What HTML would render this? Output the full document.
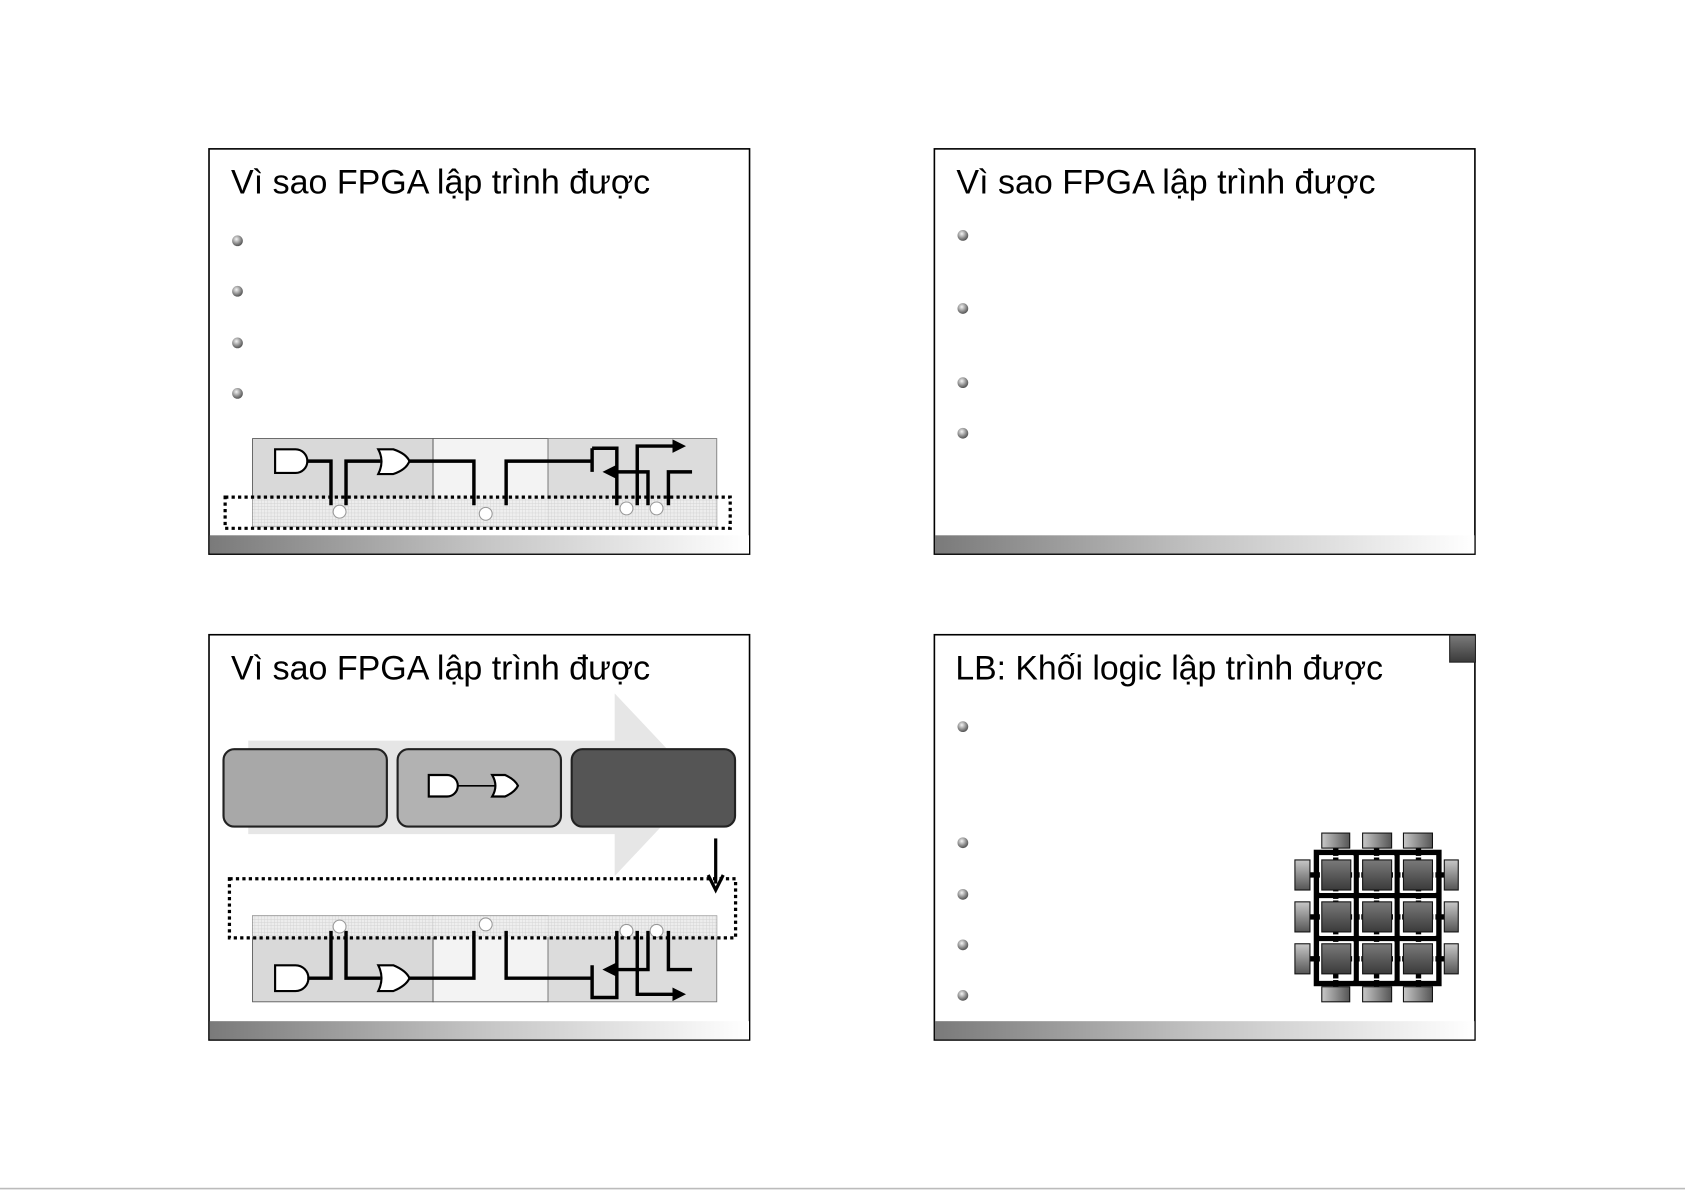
<!DOCTYPE html>
<html><head><meta charset="utf-8"><style>
html,body{margin:0;padding:0;background:#fff;}
svg{display:block;}
text{font-family:"Liberation Sans",Arial,sans-serif;}
</style></head><body>
<svg width="1685" height="1191" viewBox="0 0 1568 1108" preserveAspectRatio="none" xmlns="http://www.w3.org/2000/svg">
<defs>
<linearGradient id="bar" x1="0" x2="1" y1="0" y2="0"><stop offset="0" stop-color="#7a7a7a"/><stop offset="0.5" stop-color="#c4c4c4"/><stop offset="1" stop-color="#ffffff"/></linearGradient>
<radialGradient id="ball" cx="0.4" cy="0.35" r="0.7"><stop offset="0" stop-color="#f4f4f4"/><stop offset="0.6" stop-color="#8a8a8a"/><stop offset="1" stop-color="#4a4a4a"/></radialGradient>
<linearGradient id="sq" x1="0" x2="0" y1="0" y2="1"><stop offset="0" stop-color="#7a7a7a"/><stop offset="1" stop-color="#3a3a3a"/></linearGradient>
<linearGradient id="padh" x1="0" x2="1" y1="0" y2="0"><stop offset="0" stop-color="#c8c8c8"/><stop offset="1" stop-color="#555"/></linearGradient>
<linearGradient id="padv" x1="0" x2="0" y1="0" y2="1"><stop offset="0" stop-color="#c8c8c8"/><stop offset="1" stop-color="#555"/></linearGradient>
<pattern id="grid" width="3" height="3" patternUnits="userSpaceOnUse"><rect width="3" height="3" fill="#efefef"/><path d="M0 0H3M0 0V3" stroke="#d0d0d0" stroke-width="0.8"/></pattern>
<marker id="ah" markerWidth="4" markerHeight="4" refX="2" refY="2" orient="auto" markerUnits="strokeWidth"><path d="M0,0 L4,2 L0,4 z" fill="#000"/></marker>
<g id="ballg"><circle r="5" fill="url(#ball)"/></g>
</defs>

<!-- Slide 1 -->
<rect x="194.5" y="138.5" width="503" height="377" fill="#fff" stroke="#000" stroke-width="1.5"/>
<rect x="195" y="498" width="502" height="17" fill="url(#bar)"/>
<text x="215" y="180" font-size="32" fill="#000" textLength="390" lengthAdjust="spacingAndGlyphs">Vì sao FPGA lập trình được</text>
<use href="#ballg" x="221" y="224"/><use href="#ballg" x="221" y="271"/><use href="#ballg" x="221" y="319"/><use href="#ballg" x="221" y="366"/>
<g>
<rect x="235" y="408" width="168" height="82" fill="#d9d9d9" stroke="#555" stroke-width="0.8"/>
<rect x="403" y="408" width="107" height="82" fill="#f3f3f3" stroke="#555" stroke-width="0.8"/>
<rect x="510" y="408" width="157" height="82" fill="#dcdcdc" stroke="#777" stroke-width="0.8"/>
<rect x="235" y="463" width="432" height="27" fill="url(#grid)" opacity="0.9"/>
<path d="M256 418 H275 A11 11 0 0 1 275 440 H256 Z" fill="#fff" stroke="#000" stroke-width="2"/>
<path d="M352 418 H366 Q378 422 381 429 Q378 437 366 441 H352 Q358 429 352 418 Z" fill="#fff" stroke="#000" stroke-width="2"/>
<g fill="none" stroke="#000" stroke-width="3.2">
<path d="M286 429 H308 V470"/><path d="M322 470 V429 H354"/>
<path d="M381 429 H441 V470"/><path d="M471 470 V429 H551"/>
<path d="M551 417 H574 V470"/><path d="M551 417 V439"/>
<path d="M593 470 V415 H632" marker-end="url(#ah)"/>
<path d="M603 470 V439 H567" marker-end="url(#ah)"/>
<path d="M622 470 V439 H644"/>
</g>
<g fill="#fff" stroke="#999" stroke-width="1"><circle cx="316" cy="476" r="6"/><circle cx="452" cy="478" r="6"/><circle cx="583" cy="473" r="6"/><circle cx="611" cy="473" r="6"/></g>
<rect x="209.5" y="462.5" width="470" height="29" fill="none" stroke="#000" stroke-width="3" stroke-dasharray="3 3"/>
</g>

<!-- Slide 2 -->
<rect x="869.5" y="138.5" width="503" height="377" fill="#fff" stroke="#000" stroke-width="1.5"/>
<rect x="870" y="498" width="502" height="17" fill="url(#bar)"/>
<text x="890" y="180" font-size="32" fill="#000" textLength="390" lengthAdjust="spacingAndGlyphs">Vì sao FPGA lập trình được</text>
<use href="#ballg" x="896" y="219"/><use href="#ballg" x="896" y="287"/><use href="#ballg" x="896" y="356"/><use href="#ballg" x="896" y="403"/>

<!-- Slide 3 -->
<rect x="194.5" y="590.5" width="503" height="377" fill="#fff" stroke="#000" stroke-width="1.5"/>
<rect x="195" y="950" width="502" height="17" fill="url(#bar)"/>
<text x="215" y="632" font-size="32" fill="#000" textLength="390" lengthAdjust="spacingAndGlyphs">Vì sao FPGA lập trình được</text>
<path d="M231 689 H572 V645 L652 730 L572 815 V776 H231 Z" fill="#e6e6e6"/>
<rect x="208" y="697" width="152" height="72" rx="10" fill="#a8a8a8" stroke="#222" stroke-width="2"/>
<rect x="370" y="697" width="152" height="72" rx="10" fill="#b2b2b2" stroke="#222" stroke-width="2"/>
<rect x="532" y="697" width="152" height="72" rx="10" fill="#555" stroke="#222" stroke-width="2"/>
<path d="M399 721 H416 A10 10 0 0 1 416 741 H399 Z" fill="#fff" stroke="#000" stroke-width="2"/>
<path d="M426 731 H462" stroke="#000" stroke-width="1.5"/>
<path d="M458 721 H470 Q479 725 482 731 Q479 737 470 741 H458 Q464 731 458 721 Z" fill="#fff" stroke="#000" stroke-width="2"/>
<path d="M666 780 V822" stroke="#000" stroke-width="3"/><path d="M659 814 L666 828 L673 814" fill="none" stroke="#000" stroke-width="3"/>
<rect x="235" y="852" width="168" height="80" fill="#d9d9d9" stroke="#555" stroke-width="0.8"/>
<rect x="403" y="852" width="107" height="80" fill="#f3f3f3" stroke="#555" stroke-width="0.8"/>
<rect x="510" y="852" width="157" height="80" fill="#dcdcdc" stroke="#777" stroke-width="0.8"/>
<rect x="235" y="852" width="432" height="20" fill="url(#grid)" opacity="0.9"/>
<path d="M256 898 H275 A12 12 0 0 1 275 922 H256 Z" fill="#fff" stroke="#000" stroke-width="2"/>
<path d="M352 898 H366 Q378 903 381 910 Q378 917 366 922 H352 Q358 910 352 898 Z" fill="#fff" stroke="#000" stroke-width="2"/>
<g fill="none" stroke="#000" stroke-width="3.2">
<path d="M286 910 H308 V866"/><path d="M322 866 V910 H354"/>
<path d="M381 910 H441 V866"/><path d="M471 866 V910 H551"/>
<path d="M551 898 V928 H574 V866"/>
<path d="M593 866 V925 H632" marker-end="url(#ah)"/>
<path d="M603 866 V902 H567" marker-end="url(#ah)"/>
<path d="M622 866 V902 H644"/>
</g>
<g fill="#fff" stroke="#999" stroke-width="1"><circle cx="316" cy="862" r="6"/><circle cx="452" cy="860" r="6"/><circle cx="583" cy="866" r="6"/><circle cx="611" cy="866" r="6"/></g>
<rect x="213.5" y="817.5" width="471" height="55" fill="none" stroke="#000" stroke-width="3" stroke-dasharray="3 3"/>

<!-- Slide 4 -->
<rect x="869.5" y="590.5" width="503" height="377" fill="#fff" stroke="#000" stroke-width="1.5"/>
<rect x="870" y="950" width="502" height="17" fill="url(#bar)"/>
<rect x="1349" y="591" width="24" height="25" fill="url(#sq)" stroke="#222" stroke-width="1"/>
<text x="889" y="632" font-size="32" fill="#000" textLength="398" lengthAdjust="spacingAndGlyphs">LB: Khối logic lập trình được</text>
<use href="#ballg" x="896" y="676"/><use href="#ballg" x="896" y="784"/><use href="#ballg" x="896" y="832"/><use href="#ballg" x="896" y="879"/><use href="#ballg" x="896" y="926"/>
<g>
<g stroke="#000" stroke-width="5" fill="none">
<rect x="1225" y="793" width="114" height="122"/>
<path d="M1262 793 V915 M1300 793 V915 M1225 833 H1339 M1225 873 H1339"/>
<path d="M1243 789 V800 M1281 789 V800 M1320 789 V800 M1243 905 V918 M1281 905 V918 M1320 905 V918"/>
<path d="M1219 814 H1230 M1219 853 H1230 M1219 892 H1230 M1334 814 H1344 M1334 853 H1344 M1334 892 H1344"/>
<path d="M1256 814 H1268 M1295 814 H1306 M1256 853 H1268 M1295 853 H1306 M1256 892 H1268 M1295 892 H1306"/>
<path d="M1243 828 V839 M1281 828 V839 M1320 828 V839 M1243 867 V878 M1281 867 V878 M1320 867 V878"/>
</g>
<g stroke="#fff" stroke-width="1.5" fill="none">
<rect x="1229" y="797" width="30" height="33"/><rect x="1266" y="797" width="31" height="33"/><rect x="1304" y="797" width="31" height="33"/>
<rect x="1229" y="837" width="30" height="33"/><rect x="1266" y="837" width="31" height="33"/><rect x="1304" y="837" width="31" height="33"/>
<rect x="1229" y="877" width="30" height="34"/><rect x="1266" y="877" width="31" height="34"/><rect x="1304" y="877" width="31" height="34"/>
</g>
<g fill="url(#sq)" stroke="#111" stroke-width="1">
<rect x="1230" y="800" width="27" height="28"/><rect x="1268" y="800" width="27" height="28"/><rect x="1306" y="800" width="27" height="28"/>
<rect x="1230" y="839" width="27" height="28"/><rect x="1268" y="839" width="27" height="28"/><rect x="1306" y="839" width="27" height="28"/>
<rect x="1230" y="878" width="27" height="28"/><rect x="1268" y="878" width="27" height="28"/><rect x="1306" y="878" width="27" height="28"/>
</g>
<g fill="url(#padh)" stroke="#111" stroke-width="1">
<rect x="1230" y="775" width="26" height="14"/><rect x="1268" y="775" width="27" height="14"/><rect x="1306" y="775" width="27" height="14"/>
<rect x="1230" y="918" width="26" height="14"/><rect x="1268" y="918" width="27" height="14"/><rect x="1306" y="918" width="27" height="14"/>
</g>
<g fill="url(#padv)" stroke="#111" stroke-width="1">
<rect x="1205" y="800" width="14" height="28"/><rect x="1205" y="839" width="14" height="28"/><rect x="1205" y="878" width="14" height="28"/>
<rect x="1344" y="800" width="13" height="28"/><rect x="1344" y="839" width="13" height="28"/><rect x="1344" y="878" width="13" height="28"/>
</g>
</g>
<rect x="0" y="1105" width="1568" height="1.5" fill="#bbb"/>
</svg>
</body></html>
